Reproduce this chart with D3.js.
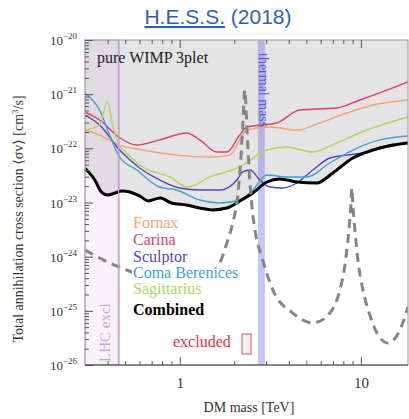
<!DOCTYPE html>
<html><head><meta charset="utf-8">
<script src="https://cdn.jsdelivr.net/npm/d3@7"></script>
<style>body{margin:0;background:#fff}svg{display:block}</style>
</head><body><svg id="c" width="409" height="419"></svg>
<script>
// ---- data (mass in TeV, <σv> in cm^3/s) ----
const xTickLabels = [1, 10];
const yTickExps = [-20, -21, -22, -23, -24, -25, -26];

const legendNames = ["Fornax", "Carina", "Sculptor", "Coma Berenices", "Sagittarius", "Combined"];
const legendColors = ["#f2a46c", "#d9426f", "#5b3fc2", "#3ea2d2", "#acd85a", "#000000"];

const massFornax = [0.30,0.361,0.466,0.625,0.963,1.465,1.889,2.345,3.143,4.43,5.935,8.37,11.65,18.2];
const sigmaFornax = [2.18e-22,1.76e-22,1.15e-22,9.3e-23,7.5e-23,6.9e-23,7.5e-23,2.18e-22,2.48e-22,2.18e-22,2.94e-22,4.49e-22,6.3e-22,7.8e-22];

const massCarina = [0.30,0.361,0.46,0.579,0.775,1.093,1.29,1.60,1.82,2.145,2.345,2.875,3.435,4.60,7.37,9.87,13.92,18.2];
const sigmaCarina = [4.69e-22,3.33e-22,1.62e-22,1.15e-22,1.43e-22,1.92e-22,1.43e-22,8.55e-23,8.55e-23,1.76e-22,2.48e-22,2.70e-22,2.94e-22,5.1e-22,5.56e-22,7.8e-22,1.19e-21,1.68e-21];

const massSculptor = [0.30,0.361,0.466,0.601,0.775,1.0,1.29,1.66,2.07,2.23,2.44,2.77,3.14,3.71,4.43,5.43,6.74,8.37,10.26,13.23,18.2];
const sigmaSculptor = [4.12e-22,2.70e-22,9.3e-23,4.34e-23,2.61e-23,1.85e-23,1.70e-23,1.70e-23,2.61e-23,3.66e-23,3.98e-23,2.61e-23,1.93e-23,1.85e-23,2.29e-23,3.98e-23,6.64e-23,7.5e-23,8.2e-23,1.01e-22,1.26e-22];

const massComa = [0.30,0.361,0.410,0.466,0.579,0.775,0.963,1.29,1.66,2.15,2.53,3.03,3.90,5.03,6.74,9.03,12.74,18.2];
const sigmaComa = [1.05e-21,5.1e-22,1.76e-22,6.9e-23,3.98e-23,1.93e-23,1.70e-23,1.11e-23,9.8e-24,1.11e-23,1.70e-23,3.22e-23,2.96e-23,2.96e-23,5.36e-23,9.3e-23,1.43e-22,1.69e-22];

const massSagittarius = [0.30,0.361,0.40,0.426,0.466,0.51,0.625,0.881,1.107,1.465,2.145,3.025,3.90,5.43,7.37,10.79,18.2];
const sigmaSagittarius = [2.18e-22,2.70e-22,7.16e-22,2.70e-22,1.15e-22,8.2e-23,4.53e-23,2.96e-23,1.93e-23,2.96e-23,4.53e-23,9.3e-23,1.06e-22,8.55e-23,1.26e-22,2.18e-22,3.79e-22];

const massCombined = [0.30,0.34,0.37,0.40,0.44,0.48,0.53,0.60,0.67,0.78,0.90,1.09,1.29,1.52,1.82,2.15,2.53,3.03,3.57,4.43,5.71,7.0,9.03,11.65,15.0,18.2];
const sigmaCombined = [4.3e-23,2.6e-23,1.56e-23,1.38e-23,1.5e-23,1.63e-23,1.56e-23,1.32e-23,1.07e-23,1.21e-23,9.8e-24,9.0e-24,7.9e-24,7.3e-24,7.9e-24,1.07e-23,1.5e-23,2.39e-23,2.72e-23,2.39e-23,2.29e-23,3.51e-23,6.64e-23,9.3e-23,1.15e-22,1.26e-22];

const massTheory = [0.30,0.40,0.543,0.775,1.066,1.374,1.663,1.842,1.963,2.091,2.173,2.229,2.286,2.345,2.406,2.499,2.63,2.838,3.265,4.21,5.43,6.743,7.656,8.161,8.586,8.807,8.92,9.034,9.266,9.625,10.26,11.21,12.26,14.10,16.43,18.2];
const sigmaTheory = [1.33e-24,7.98e-25,5.21e-25,3.41e-25,3.13e-25,4.22e-25,7.64e-25,2.03e-24,4.19e-24,1.38e-23,6.1e-23,2.70e-22,1.19e-21,2.70e-22,4.93e-23,9.0e-24,2.51e-24,9.86e-25,2.43e-25,9.1e-26,5.97e-26,9.1e-26,2.43e-25,7.0e-25,3.11e-24,9.0e-24,1.85e-23,9.0e-24,3.11e-24,8.7e-25,2.43e-25,8.4e-26,3.9e-26,2.55e-26,4.43e-26,1.18e-25];

const lhcLimit = 0.46;           // TeV
const thermalBand = [2.70, 2.95]; // TeV

// ---- layout ----
const L = 85, R = 408, T = 40, B = 365;
const serif = "'Liberation Serif','DejaVu Serif',serif";
const svg = d3.select("#c");
const x = d3.scaleLog().domain([0.3, 18.2]).range([L, R]);
const y = d3.scaleLog().domain([1e-26, 1e-20]).range([B, T]);

svg.append("defs").append("clipPath").attr("id","clip")
  .append("rect").attr("x",L).attr("y",T).attr("width",R-L).attr("height",B-T);

const zip = (m, s) => m.map((v,i)=>[v, s[i]]);
const line = d3.line().x(d=>x(d[0])).y(d=>y(d[1])).curve(d3.curveMonotoneX);
const plot = svg.append("g").attr("clip-path","url(#clip)");

// excluded (gray) area above combined
plot.append("path")
  .datum(zip(massCombined, sigmaCombined))
  .attr("d", d3.area().x(d=>x(d[0])).y0(y(1e-20)).y1(d=>y(d[1])).curve(d3.curveMonotoneX))
  .attr("fill","#e4e4e4");

// LHC excluded region
plot.append("rect").attr("x",x(0.3)).attr("y",T).attr("width",x(lhcLimit)-x(0.3)).attr("height",B-T)
  .attr("fill","#c89ad2").attr("fill-opacity",0.13);
plot.append("line").attr("x1",x(lhcLimit)).attr("x2",x(lhcLimit)).attr("y1",T).attr("y2",B)
  .attr("stroke","#b88ccb").attr("stroke-width",1.6);

// thermal mass band
plot.append("rect").attr("x",x(thermalBand[0])).attr("y",T).attr("width",x(thermalBand[1])-x(thermalBand[0])).attr("height",B-T)
  .attr("fill","#7f7cf5").attr("fill-opacity",0.45);

// dwarf curves
const series = [
  [massFornax, sigmaFornax, 0],
  [massCarina, sigmaCarina, 1],
  [massSculptor, sigmaSculptor, 2],
  [massComa, sigmaComa, 3],
  [massSagittarius, sigmaSagittarius, 4]
];
series.forEach(([m,s,i])=>{
  plot.append("path").datum(zip(m,s)).attr("d",line)
    .attr("fill","none").attr("stroke",legendColors[i]).attr("stroke-width",1.4);
});
plot.append("path").datum(zip(massCombined,sigmaCombined)).attr("d",line)
  .attr("fill","none").attr("stroke","#000").attr("stroke-width",3);

// theory dashed
plot.append("path").datum(zip(massTheory,sigmaTheory)).attr("d",line)
  .attr("fill","none").attr("stroke","#858585").attr("stroke-width",3)
  .attr("stroke-dasharray","9,6");

// frame
svg.append("rect").attr("x",L).attr("y",T).attr("width",R-L).attr("height",B-T)
  .attr("fill","none").attr("stroke","#9a9a9a").attr("stroke-width",1);
svg.append("rect").attr("x",L).attr("y",T).attr("width",x(lhcLimit)-L).attr("height",B-T)
  .attr("fill","none").attr("stroke","#c6a4d4").attr("stroke-width",1.2);

// axes ticks
const minorX = [0.4,0.5,0.6,0.7,0.8,0.9,2,3,4,5,6,7,8,9];
const minorY = [];
for (let e=-26; e<-20; e++) for (let k=2;k<10;k++) minorY.push(k*Math.pow(10,e));
const majorY = yTickExps.map(e=>Math.pow(10,e));

function styleAxis(g){ g.select(".domain").remove(); g.selectAll("line").attr("stroke","#555"); }
svg.append("g").attr("transform",`translate(0,${B})`)
  .call(d3.axisBottom(x).tickValues(minorX).tickSize(-4).tickFormat(""))
  .call(styleAxis);
svg.append("g").attr("transform",`translate(0,${B})`)
  .call(d3.axisBottom(x).tickValues(xTickLabels).tickSize(-8).tickPadding(12).tickFormat(d3.format("d")))
  .call(styleAxis)
  .selectAll("text").attr("font-family",serif).attr("font-size",15).attr("fill","#333");
svg.append("g").attr("transform",`translate(0,${T})`)
  .call(d3.axisTop(x).tickValues(minorX).tickSize(-4).tickFormat("")).call(styleAxis);
svg.append("g").attr("transform",`translate(0,${T})`)
  .call(d3.axisTop(x).tickValues(xTickLabels).tickSize(-8).tickFormat("")).call(styleAxis);
svg.append("g").attr("transform",`translate(${L},0)`)
  .call(d3.axisLeft(y).tickValues(minorY).tickSize(-4).tickFormat("")).call(styleAxis);
svg.append("g").attr("transform",`translate(${L},0)`)
  .call(d3.axisLeft(y).tickValues(majorY).tickSize(-8).tickFormat("")).call(styleAxis);
svg.append("line").attr("x1",L).attr("x2",R).attr("y1",B).attr("y2",B).attr("stroke","#444");

// y tick labels with superscripts
yTickExps.forEach(e=>{
  const t = svg.append("text").attr("x",62).attr("y",y(Math.pow(10,e))+5)
    .attr("text-anchor","end").attr("font-family",serif).attr("font-size",13).attr("fill","#333");
  t.append("tspan").text("10");
  t.append("tspan").attr("dy",-6).attr("font-size",9).text("\u2212"+(-e));
  t.attr("x", 62+15).attr("text-anchor","end");
});

// axis titles
svg.append("text").attr("x",249).attr("y",412).attr("text-anchor","middle")
  .attr("font-family",serif).attr("font-size",14).attr("fill","#333").text("DM mass [TeV]");
const yt = svg.append("text").attr("transform","translate(23,219) rotate(-90)").attr("text-anchor","middle")
  .attr("font-family",serif).attr("font-size",14).attr("fill","#333");
yt.append("tspan").text("Total annihilation cross section \u27E8\u03C3v\u27E9 [cm");
yt.append("tspan").attr("dy",-5).attr("font-size",9).text("3");
yt.append("tspan").attr("dy",5).text("/s]");

// title
const title = svg.append("text").attr("x",218).attr("y",24).attr("text-anchor","middle")
  .attr("font-family","'Liberation Sans',Arial,sans-serif").attr("font-size",21).attr("fill","#2f5fb5");
title.append("tspan").attr("text-decoration","underline").text("H.E.S.S.");
title.append("tspan").text(" (2018)");

// annotations
svg.append("text").attr("x",97).attr("y",63).attr("font-family",serif).attr("font-size",16)
  .attr("fill","#222").text("pure WIMP 3plet");
svg.append("text").attr("transform",`translate(259,53) rotate(90)`).attr("font-family",serif)
  .attr("font-size",14).attr("fill","#5a55d8").text("thermal mass");
svg.append("text").attr("transform",`translate(110,362) rotate(-90)`).attr("font-family",serif)
  .attr("font-size",15).attr("fill","#c8a6d2").text("LHC excl");

// legend
const legY = [228, 245, 262, 278, 294, 315];
legendNames.forEach((n,i)=>{
  const g = svg.append("g");
  const t = g.append("text").attr("x",133).attr("y",legY[i]).attr("font-family",serif)
    .attr("font-size",16).attr("fill",legendColors[i]).attr("font-weight", i===5?"bold":"normal").text(n);
  const bb = t.node().getBBox();
  g.insert("rect","text").attr("x",bb.x-1).attr("y",legY[i]-13).attr("width",bb.width+2).attr("height",17).attr("fill","#fff");
});
svg.append("text").attr("x",173).attr("y",347).attr("font-family",serif).attr("font-size",16)
  .attr("fill","#e0344a").text("excluded");
svg.append("rect").attr("x",242).attr("y",334).attr("width",9).attr("height",20)
  .attr("fill","#fbeef0").attr("stroke","#e66a7a").attr("stroke-width",1.2);
</script></body></html>
